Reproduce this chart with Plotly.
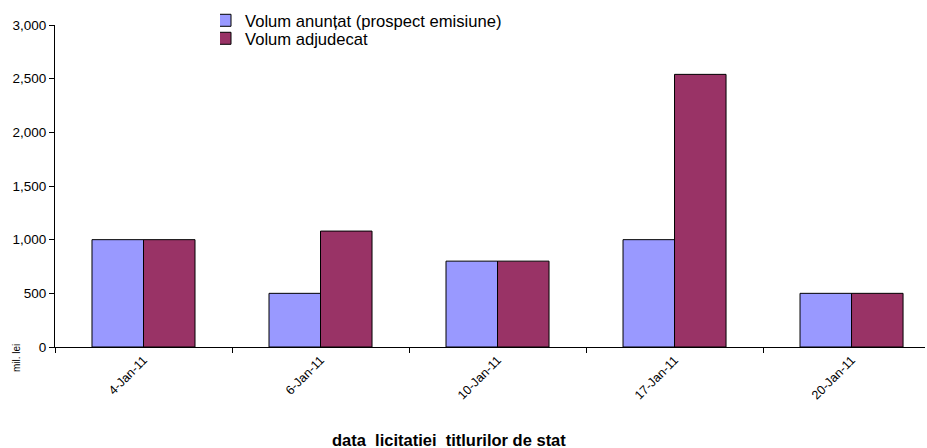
import plotly.graph_objects as go

categories = ["4-Jan-11", "6-Jan-11", "10-Jan-11", "17-Jan-11", "20-Jan-11"]
volum_anuntat = [1000, 500, 800, 1000, 500]
volum_adjudecat = [1000, 1080, 800, 2540, 500]
y_ticks = [0, 500, 1000, 1500, 2000, 2500, 3000]

font = "Liberation Sans, Arial, sans-serif"

fig = go.Figure()
fig.add_trace(go.Bar(x=categories, y=volum_anuntat, name="Volum anunțat (prospect emisiune)",
                     legend="legend",
                     marker=dict(color="#9999FF", line=dict(color="#000000", width=1))))
fig.add_trace(go.Bar(x=categories, y=volum_adjudecat, name="Volum adjudecat",
                     legend="legend2",
                     marker=dict(color="#993366", line=dict(color="#000000", width=1))))

leg_common = dict(xanchor="left", yanchor="top", xref="container", yref="container",
                  font=dict(family=font, size=16.6), bgcolor="rgba(0,0,0,0)",
                  itemwidth=30, indentation=-15)

fig.update_layout(
    width=927, height=448,
    margin=dict(l=55, r=2, t=25, b=101, autoexpand=False),
    paper_bgcolor="white", plot_bgcolor="white",
    barmode="group", bargap=0.418, bargroupgap=0,
    font=dict(family=font, size=12, color="#000000"),
    showlegend=True,
    legend=dict(x=220 / 927, y=1.0 - 3 / 448, **leg_common),
    legend2=dict(x=220 / 927, y=1.0 - 21 / 448, **leg_common),
    xaxis=dict(type="category", range=[-0.5, 4.415], showline=True, linecolor="#000000", linewidth=1,
               ticks="outside", tickson="boundaries", ticklen=5, tickcolor="#000000", automargin=False,
               tickangle=-45, tickfont=dict(size=12.5), showgrid=False, zeroline=False),
    yaxis=dict(range=[0, 3000], tickvals=y_ticks, tickformat=",", showline=True, linecolor="#000000",
               linewidth=1, ticks="outside", ticklen=5, tickcolor="#000000", showgrid=False,
               automargin=False, zeroline=False, tickfont=dict(size=13.5)),
    annotations=[
        dict(text="<b>data\u00a0 licitatiei\u00a0 titlurilor de stat</b>", xref="paper", yref="paper",
             x=(449 - 55) / 870, y=(347 - 440) / 322, yanchor="middle", xanchor="center",
             showarrow=False, font=dict(family=font, size=16.5)),
        dict(text="mil. lei", xref="paper", yref="paper", x=(17 - 55) / 870, y=(347 - 358) / 322,
             xanchor="center", yanchor="middle", textangle=-90, showarrow=False,
             font=dict(family=font, size=10)),
    ],
)

fig.write_html("out.html", config={"displayModeBar": False},
               post_script="document.body.style.margin='0';")
